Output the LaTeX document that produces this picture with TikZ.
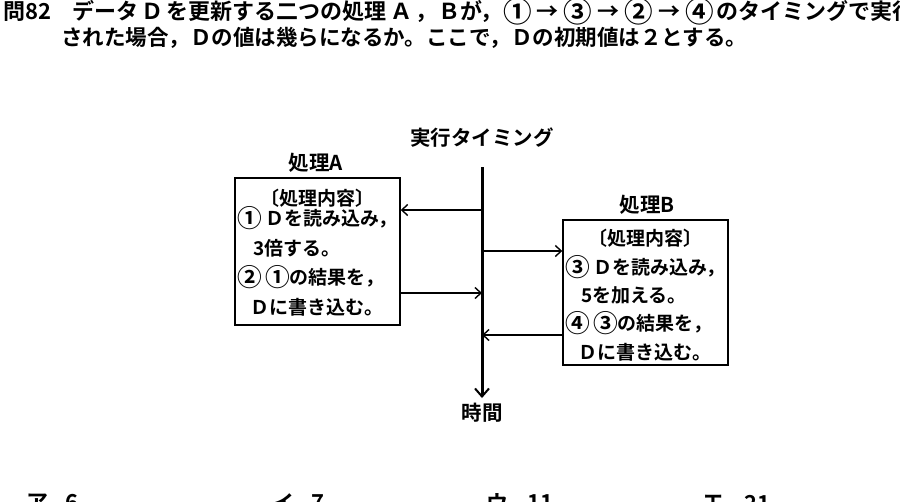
\documentclass[tikz,border=0pt]{standalone}
\usepackage{fontspec}
\setmainfont{Noto Sans CJK JP}[BoldFont={Noto Sans CJK JP Bold}]
\usetikzlibrary{arrows.meta}
\newcommand{\wbox}[2]{\makebox[#1em]{#2}}
\newcommand{\cnum}[1]{\raisebox{-0.12em}{\scalebox{1.3}{#1}}}
\tikzset{
  txt/.style={inner sep=0pt, font=\bfseries\fontsize{19}{21}\selectfont},
  lbl/.style={inner sep=0pt, font=\bfseries\fontsize{20.5}{22}\selectfont},
  head/.style={inner sep=0pt, font=\bfseries\fontsize{22}{24}\selectfont},
  headb/.style={inner sep=0pt, font=\bfseries\fontsize{21.5}{24}\selectfont},
  pbox/.style={draw, line width=1.4pt, inner sep=0pt},
  axis/.style={line width=3pt, -{Straight Barb[length=8pt,width=14pt,line width=2pt]}},
  msg/.style={line width=1.5pt, -{Straight Barb[length=6pt,width=11pt,line width=1.4pt]}}
}
\begin{document}
\begin{tikzpicture}[x=1pt,y=-1pt]
\useasboundingbox (0,0) rectangle (900,501);
\clip (0,0) rectangle (900,501);
% question text
\node[head, anchor=west] (q0) at (3,11.5) {問82};
\node[head, anchor=west] (q1a) at (72,11.5) {データ\wbox{1.3}{Ｄ}を更新する二つの処理\wbox{1.3}{Ａ}，};
\node[head, anchor=west] (q1b) at (438,11.5) {Ｂが，};
\node[head, anchor=west] (q1c) at (502,11.5) {\wbox{1.38}{\cnum{①}}\wbox{1.38}{→}\wbox{1.38}{\cnum{③}}\wbox{1.38}{→}\wbox{1.38}{\cnum{②}}\wbox{1.38}{→}\wbox{1.38}{\cnum{④}}};
\node[head, anchor=west] (q1d) at (716,11.5) {のタイミングで実行};
\node[headb, anchor=west] (q2) at (61,38) {された場合，Ｄの値は幾らになるか。ここで，Ｄの初期値は２とする。};
% time axis
\node[lbl] (tlabel) at (482,138) {実行タイミング};
\coordinate (ttop) at (482,167);
\coordinate (tbot) at (482,398);
\draw[axis] (ttop) -- (tbot);
\node[lbl] (jikan) at (482,413) {時間};
% box A
\node[pbox, minimum width=165pt, minimum height=147pt] (boxA) at (317.5,251.5) {};
\node[lbl] (titleA) at (316,163) {処理A};
\node[txt] (a0) at (317,198) {〔処理内容〕};
\node[txt, anchor=west] (a1) at (237,218) {\cnum{①}\,Ｄを読み込み，};
\node[txt, anchor=west] (a2) at (253,248) {3倍する。};
\node[txt, anchor=west] (a3) at (237,277) {\cnum{②}\,\cnum{①}の結果を，};
\node[txt, anchor=west] (a4) at (250,307) {Ｄに書き込む。};
% box B
\node[pbox, minimum width=165pt, minimum height=145pt] (boxB) at (645.5,292.5) {};
\node[lbl] (titleB) at (647,205) {処理B};
\node[txt] (b0) at (645,238) {〔処理内容〕};
\node[txt, anchor=west] (b1) at (565,267) {\cnum{③}\,Ｄを読み込み，};
\node[txt, anchor=west] (b2) at (581,295) {5を加える。};
\node[txt, anchor=west] (b3) at (565,323) {\cnum{④}\,\cnum{③}の結果を，};
\node[txt, anchor=west] (b4) at (578,352) {Ｄに書き込む。};
% messages
\coordinate (t1) at (482,210);
\coordinate (t2) at (482,251);
\coordinate (t3) at (482,293);
\coordinate (t4) at (482,335);
\draw[msg] (t1) -- (t1 -| boxA.east);
\draw[msg] (t2) -- (t2 -| boxB.west);
\draw[msg] (t3 -| boxA.east) -- (t3);
\draw[msg] (t4 -| boxB.west) -- (t4);
% answer choices (cut off at the lower edge)
\node[head] (c1) at (37,503) {ア};
\node[head] (c1v) at (72,503) {6};
\node[head] (c2) at (283,503) {イ};
\node[head] (c2v) at (318,503) {7};
\node[head] (c3) at (497,503) {ウ};
\node[head] (c3v) at (540,503) {11};
\node[head] (c4) at (713,503) {エ};
\node[head] (c4v) at (757,503) {21};
\end{tikzpicture}
\end{document}
